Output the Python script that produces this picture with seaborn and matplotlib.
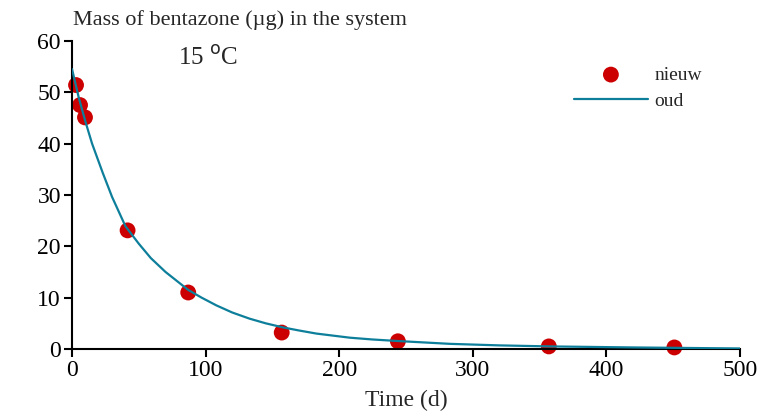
import seaborn as sns
import matplotlib.pyplot as plt
import pandas as pd

# measured points (nieuw)
t_nieuw = [3, 6, 9.7, 41.6, 87, 157, 244, 357, 451]
m_nieuw = [51.4, 47.5, 45.1, 23.1, 11.0, 3.2, 1.5, 0.5, 0.3]

# old model curve (oud)
t_oud = [0, 5, 10, 15, 23, 30, 40, 50, 59, 70, 87, 97, 108, 120, 133, 145, 158, 170, 183, 208, 225, 244, 283, 320, 358, 420, 500]
m_oud = [54.5, 49.0, 44.3, 40.0, 34.3, 29.6, 23.9, 20.5, 17.7, 15.0, 11.5, 10.0, 8.5, 7.1, 5.9, 5.0, 4.2, 3.6, 3.0, 2.2, 1.85, 1.55, 1.0, 0.7, 0.5, 0.3, 0.1]

sns.set_style('ticks')
plt.rcParams['font.family'] = ['Liberation Serif', 'DejaVu Serif']

df_n = pd.DataFrame({'t': t_nieuw, 'm': m_nieuw})
df_o = pd.DataFrame({'t': t_oud, 'm': m_oud})

fig = plt.figure(figsize=(7.72, 4.13), dpi=100)
ax = fig.add_axes([0.0933, 0.155, 0.865, 0.746])

sns.lineplot(data=df_o, x='t', y='m', ax=ax, color='#0E7F9B', linewidth=1.6, label='oud', zorder=3)
sns.scatterplot(data=df_n, x='t', y='m', ax=ax, color='#CC0000', s=130, edgecolor='none', label='nieuw', zorder=2, clip_on=False)

ax.set_xlim(0, 500)
ax.set_ylim(0, 60)
ax.set_xticks(range(0, 501, 100))
ax.set_yticks(range(0, 61, 10))
ax.tick_params(labelsize=17, length=6, width=1.5, color='black', labelcolor='black', pad=2)
for s in ['left', 'bottom']:
    ax.spines[s].set_linewidth(1.5)
    ax.spines[s].set_color('black')
sns.despine(ax=ax)
ax.set_xlabel('Time (d)', fontsize=17, labelpad=6)
ax.set_ylabel('')

fig.text(73 / 772, 1 - 20 / 413, 'Mass of bentazone (µg) in the system', fontsize=16, va='center', ha='left')
ax.text(0.158, 0.945, '15 $^{\\rm o}$C', transform=ax.transAxes, fontsize=18, va='center', ha='left')

h, l = ax.get_legend_handles_labels()
order = [l.index('nieuw'), l.index('oud')]
ax.legend([h[i] for i in order], [l[i] for i in order], frameon=False, fontsize=14,
          loc='upper right', bbox_to_anchor=(0.97, 0.975), handlelength=3.8, labelspacing=0.45,
          handletextpad=0.35)

fig.savefig('out.png', dpi=100)
